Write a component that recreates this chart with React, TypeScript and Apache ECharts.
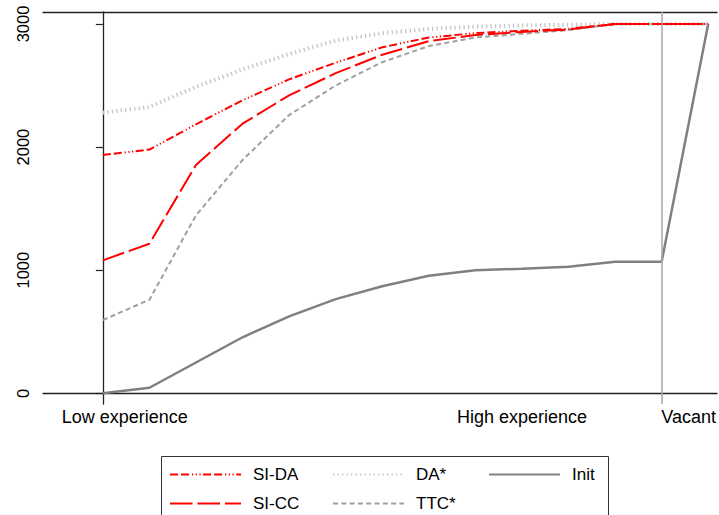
import React, { useEffect, useRef } from "react";
import * as echarts from "echarts";

const xIndex = [0, 1, 2, 3, 4, 5, 6, 7, 8, 9, 10, 11, 12, 13];
const siDA = [1935, 1980, 2185, 2380, 2550, 2685, 2810, 2890, 2925, 2945, 2960, 3000, 3000, 3000];
const siCC = [1080, 1215, 1855, 2190, 2420, 2600, 2750, 2860, 2910, 2935, 2955, 3000, 3000, 3000];
const daStar = [2280, 2325, 2490, 2630, 2755, 2865, 2925, 2960, 2978, 2988, 2993, 3000, 3000, 3000];
const ttcStar = [595, 760, 1445, 1895, 2260, 2500, 2690, 2820, 2890, 2920, 2950, 3000, 3000, 3000];
const init = [0, 45, 250, 455, 625, 765, 870, 955, 1000, 1012, 1028, 1068, 1068, 3000];
const xTickLabels = ["Low experience", "High experience", "Vacant"];
const xTickValues = [0.47, 9.0, 12.58];
const yTicks = [0, 1000, 2000, 3000];
const vacantLineAt = 12;

const FONT = "'Liberation Sans', Arial, Helvetica, sans-serif";

function pairs(vals: number[]) {
  return xIndex.map((x, i) => [x, vals[i]]);
}

export default function App() {
  const ref = useRef<HTMLDivElement>(null);
  useEffect(() => {
    if (!ref.current) return;
    const chart = echarts.init(ref.current, null, { renderer: "svg" });
    const mkLegend = (left: number, data: string[]) => ({
      orient: "vertical",
      left,
      top: 466,
      height: 48,
      padding: 0,
      itemWidth: 71,
      itemHeight: 14,
      itemGap: 12,
      itemStyle: { opacity: 0 },
      textStyle: {
        fontFamily: FONT,
        fontSize: 17,
        lineHeight: 14,
        color: "#000",
        padding: [0, 0, 0, 7],
      },
      selectedMode: false,
      data,
    });
    chart.setOption({
      animation: false,
      backgroundColor: "#fff",
      grid: { left: 43, right: 0, top: 12, bottom: 111, containLabel: false },
      xAxis: [
        {
          type: "value",
          min: -1.285,
          max: 13.19,
          axisLine: { show: true, lineStyle: { color: "#222", width: 1.3 } },
          axisTick: { show: false },
          splitLine: { show: false },
          axisLabel: {
            customValues: xTickValues,
            formatter: (v: number) => {
              let best = 0;
              xTickValues.forEach((t, i) => {
                if (Math.abs(t - v) < Math.abs(xTickValues[best] - v)) best = i;
              });
              return xTickLabels[best];
            },
            fontFamily: FONT,
            fontSize: 18,
            color: "#000",
            margin: 4,
            showMinLabel: true,
            showMaxLabel: true,
          },
        },
        {
          type: "value",
          position: "top",
          min: -1.285,
          max: 13.19,
          axisLine: { show: true, lineStyle: { color: "#222", width: 1.3 } },
          axisTick: { show: false },
          axisLabel: { show: false },
          splitLine: { show: false },
        },
      ],
      yAxis: {
        type: "value",
        min: -87,
        max: 3097,
        axisLine: { show: true, lineStyle: { color: "#222", width: 1.3 } },
        axisTick: { show: true, length: 7, customValues: yTicks, lineStyle: { color: "#222", width: 1.2 } },
        splitLine: { show: false },
        axisLabel: {
          customValues: yTicks,
          formatter: (v: number) => String(v),
          rotate: 90,
          fontFamily: FONT,
          fontSize: 16.5,
          color: "#000",
          margin: 12,
        },
      },
      legend: [
        mkLegend(169, ["SI-DA", "SI-CC"]),
        mkLegend(332, ["DA*", "TTC*"]),
        mkLegend(488, ["Init"]),
      ],
      graphic: [
        {
          type: "rect",
          left: 159,
          top: 454,
          shape: { width: 447, height: 60 },
          style: { fill: "none", stroke: "#333", lineWidth: 1 },
          z: -1,
        },
      ],
      series: [
        {
          name: "Init",
          type: "line",
          data: pairs(init),
          symbol: "none",
          color: "#808080",
          lineStyle: { color: "#808080", width: 2.5, type: "solid" },
          z: 1,
          markLine: {
            silent: true,
            symbol: "none",
            label: { show: false },
            lineStyle: { color: "#a8a8a8", width: 1.5, type: "solid" },
            data: [{ xAxis: vacantLineAt }],
          },
        },
        {
          name: "DA*",
          type: "line",
          data: pairs(daStar),
          symbol: "none",
          color: "#c4c4c4",
          lineStyle: { color: "#c4c4c4", width: 4, type: [1.3, 3.2] },
          z: 2,
        },
        {
          name: "TTC*",
          type: "line",
          data: pairs(ttcStar),
          symbol: "none",
          color: "#a0a0a0",
          lineStyle: { color: "#a0a0a0", width: 2, type: [5, 3.3] },
          z: 3,
        },
        {
          name: "SI-CC",
          type: "line",
          data: pairs(siCC),
          symbol: "none",
          color: "#ff0000",
          lineStyle: { color: "#ff0000", width: 2, type: [22.5, 5] },
          z: 4,
        },
        {
          name: "SI-DA",
          type: "line",
          data: pairs(siDA),
          symbol: "none",
          color: "#ff0000",
          lineStyle: { color: "#ff0000", width: 2, type: [8, 3, 8, 3, 1.2, 2.5, 1.2, 2.5, 1.2, 2.5] },
          z: 5,
        },
      ],
    });
    return () => chart.dispose();
  }, []);
  return (
    <div
      ref={ref}
      style={{ position: "fixed", left: 0, top: 0, width: 719, height: 515, background: "#fff" }}
    />
  );
}
